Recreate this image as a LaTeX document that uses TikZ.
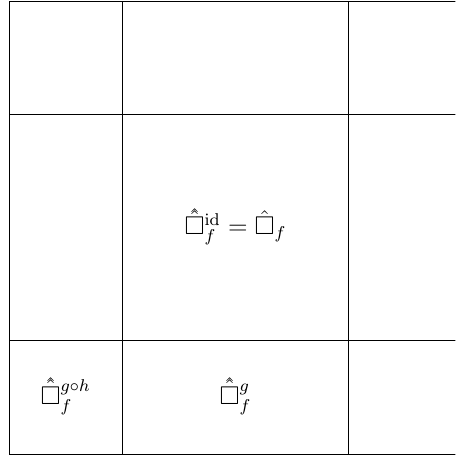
\documentclass[tikz,border=0pt]{standalone}
\usepackage{amsmath}
\usepackage{amssymb}
\newcommand{\hhbox}{\hat{\Box}\llap{\smash{\raisebox{1pt}{$\hat{\phantom{\Box}}$}}}}
\begin{document}
\begin{tikzpicture}[every node/.style={font=\large}]
  \useasboundingbox (-0.148,-0.066) rectangle (7.33,7.456);
  \clip (-0.148,-0.066) rectangle (7.33,7.456);
  \foreach \x in {0,1.86,5.58} {
    \draw (\x,0) -- (\x,7.44);
  }
  \foreach \y in {0,1.86,5.58,7.44} {
    \draw (0,\y) -- (7.44,\y);
  }
  \node (mid) at (3.72,3.72) {$\hhbox^{\mathrm{id}}_f = \hat{\Box}_f$};
  \node (botleft) at (0.93,0.93) {$\hhbox^{g\circ h}_f$};
  \node (botmid) at (3.72,0.93) {$\hhbox^{g}_f$};
\end{tikzpicture}
\end{document}
